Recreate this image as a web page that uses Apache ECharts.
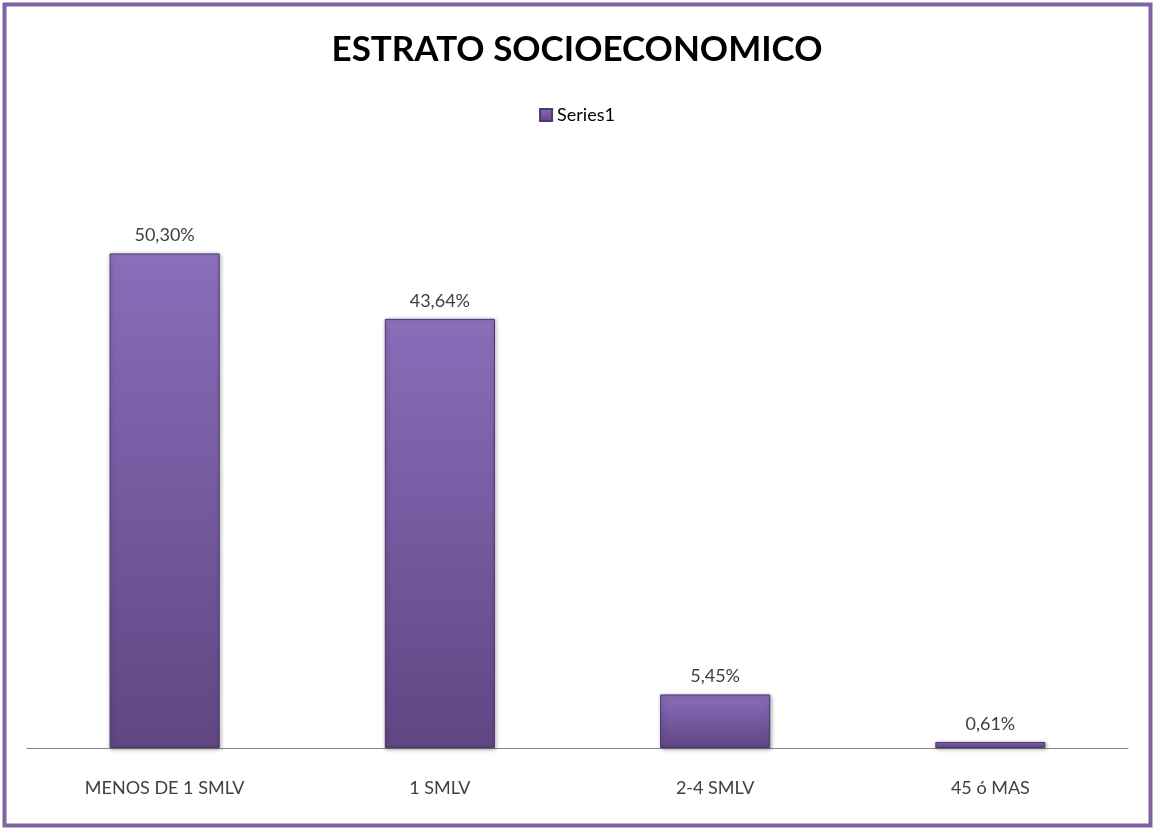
<!DOCTYPE html>
<html>
<head>
<meta charset="utf-8">
<script src="https://cdn.jsdelivr.net/npm/echarts@6/dist/echarts.min.js"></script>
<style>
  html, body { margin: 0; padding: 0; background: #fff; }
  #chart { width: 1154px; height: 829px; }
</style>
</head>
<body>
<div id="chart"></div>
<script>
var categories = ['MENOS DE 1 SMLV', '1 SMLV', '2-4 SMLV', '45 ó MAS'];
var values = [50.30, 43.64, 5.45, 0.61];
var seriesName = 'Series1';

var chart = echarts.init(document.getElementById('chart'));

// relleno con degradado tipo bisel de Excel
var barColor = new echarts.graphic.LinearGradient(0, 0, 0, 1, [
  { offset: 0, color: '#9274C0' },
  { offset: 0.03, color: '#8A6BB8' },
  { offset: 1, color: '#604683' }
]);

var option = {
  backgroundColor: '#fff',
  textStyle: { fontFamily: 'Lato' },
  title: {
    text: 'ESTRATO SOCIOECONOMICO',
    left: 'center',
    top: 27,
    textStyle: { fontSize: 35, fontWeight: 'bold', color: '#000', fontFamily: 'Lato' }
  },
  legend: {
    data: [seriesName],
    top: 101,
    left: 'center',
    itemWidth: 12,
    itemHeight: 12,
    icon: 'rect',
    itemGap: 5,
    textStyle: { fontSize: 18, color: '#000' }
  },
  grid: { left: 27, right: 26, top: 158, bottom: 81, containLabel: false },
  xAxis: {
    type: 'category',
    data: categories,
    axisLine: { lineStyle: { color: '#868686', width: 1 } },
    axisTick: { show: false },
    axisLabel: { fontSize: 18, color: '#404040', margin: 31 }
  },
  yAxis: {
    type: 'value',
    min: 0,
    max: 60,
    show: false,
    splitLine: { show: false }
  },
  series: [{
    name: seriesName,
    type: 'bar',
    data: values,
    barWidth: '40%',
    itemStyle: {
      color: barColor,
      borderColor: '#4E3870',
      borderWidth: 1,
      shadowColor: 'rgba(0,0,0,0.35)',
      shadowBlur: 4,
      shadowOffsetX: 1,
      shadowOffsetY: 1
    },
    label: {
      show: true,
      position: 'top',
      distance: 9,
      fontSize: 18,
      color: '#404040',
      formatter: function (p) {
        return p.value.toFixed(2).replace('.', ',') + '%';
      }
    }
  }],
  graphic: [{
    type: 'rect',
    shape: { x: 4.5, y: 4.5, width: 1146, height: 821 },
    style: { fill: null, stroke: '#8064A2', lineWidth: 4 },
    silent: true
  }]
};

chart.setOption(option);
</script>
</body>
</html>
